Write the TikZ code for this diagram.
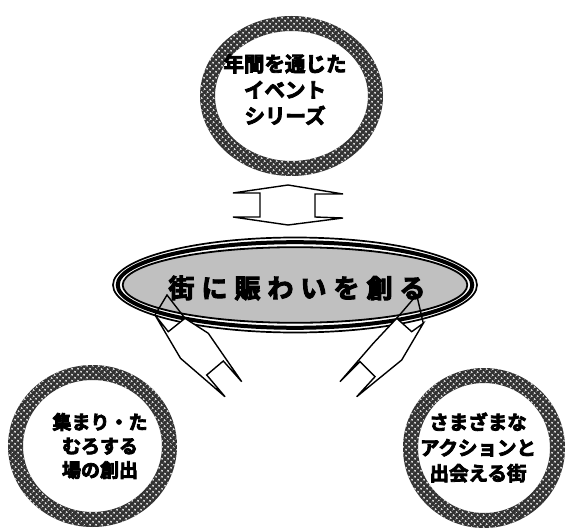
\documentclass[tikz,border=0pt]{standalone}
\usepackage{fontspec}
\newfontfamily\cjk{Noto Sans CJK JP}[BoldFont={Noto Sans CJK JP Bold}, BoldFeatures={FakeBold=4}]
\usetikzlibrary{patterns.meta}
\definecolor{mgray}{RGB}{192,192,192}
\tikzset{
  ringbase/.style={fill=black!80, even odd rule},
  ringdots/.style={pattern={Dots[distance=4pt, radius=1.25pt, angle=45]}, pattern color=white!85!black, even odd rule},
  bubbletext/.style={align=center, font=\cjk\bfseries\fontsize{20}{25}\selectfont, inner sep=0pt},
  outl/.style={draw=black, line width=1.4pt, line join=miter},
  arrowbody/.style={draw=black, fill=white, line width=1.4pt, line join=miter}
}
\begin{document}
\begin{tikzpicture}[x=1pt,y=-1pt]
\useasboundingbox (0,0) rectangle (567,529);
% centres
\coordinate (ctop) at (291.5,96);
\coordinate (cbl) at (92.5,446);
\coordinate (cbr) at (484,448);
\coordinate (cmain) at (295,285);
% rings
\foreach \c/\rx/\ry in {ctop/91.5/80, cbl/84.5/81, cbr/81/80}{
  \fill[ringbase] (\c) ellipse [x radius=\rx pt, y radius=\ry pt]
                  (\c) ellipse [x radius=\rx pt-15pt, y radius=\ry pt-15pt];
  \fill[ringdots] (\c) ellipse [x radius=\rx pt, y radius=\ry pt]
                  (\c) ellipse [x radius=\rx pt-15pt, y radius=\ry pt-15pt];
}
% texts in rings
\node[bubbletext, font=\cjk\bfseries\fontsize{20.5}{26}\selectfont] (ttop) at (285,89.5) {年間を通じた\\イベント\\シリーズ};
\node[bubbletext, font=\cjk\bfseries\fontsize{19}{24}\selectfont] (tbl) at (100,446) {集まり・た\\むろする\\場の創出};
\node[bubbletext, font=\cjk\bfseries\fontsize{19.5}{25.5}\selectfont] (tbr) at (478,447.5) {さまざまな\\アクションと\\出会える街};
% up-down arrow
\draw[outl, fill=white] (288,185) -- (343,194) -- (315,194) -- (315,217) -- (343,218)
  -- (288,225) -- (233,217) -- (260,217) -- (260,193) -- (233,193) -- cycle;
% main ellipse
\draw[line width=1.7pt] (cmain) ellipse [x radius=182pt, y radius=47.5pt];
\draw[line width=4pt] (cmain) ellipse [x radius=177.3pt, y radius=42.8pt];
\draw[line width=1.8pt, fill=mgray] (cmain) ellipse [x radius=172.3pt, y radius=37.8pt];
% left notched arrow
\draw[arrowbody] (155,315) -- (168.3,331.7) -- (185,318.3) -- (208.3,333.3) -- (241.7,381.7)
  -- (223.3,361) -- (206.7,375) -- (225,396.7) -- (180.5,358.3) -- cycle;
\draw[outl] (155,315) -- (167,295) -- (185,318.3);
% right notched arrow
\draw[arrowbody] (396.7,318.3) -- (411.7,331.7) -- (423.3,323.3) -- (401.7,360) -- (356.7,396.7)
  -- (375,376.7) -- (360,361.7) -- (340,381.7) -- (373.3,343.3) -- cycle;
\draw[outl] (396.7,318.3) -- (416.7,295) -- (423.3,323.3);
% main text
\node[inner sep=0pt, font=\cjk\bfseries\fontsize{26}{30}\selectfont] (tmain) at (297,288)
  {街\kern7pt に\kern7pt 賑\kern7pt わ\kern7pt い\kern7pt を\kern7pt 創\kern7pt る};
\end{tikzpicture}
\end{document}
